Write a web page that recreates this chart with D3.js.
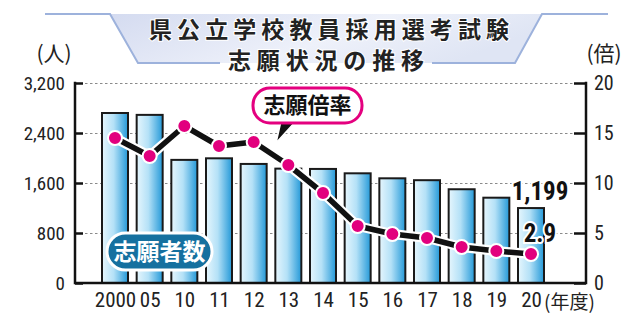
<!DOCTYPE html>
<html><head><meta charset="utf-8">
<script src="https://cdn.jsdelivr.net/npm/d3@7"></script>
<style>
html,body{margin:0;padding:0;background:#fff;}
svg{display:block;}
.num{font-family:"Liberation Sans Narrow","Roboto Condensed","DejaVu Sans Condensed",sans-serif;}
.jp{font-family:"Noto Sans CJK JP","Noto Sans CJK SC",sans-serif;}
.mix{font-family:"Liberation Sans Narrow","Noto Sans CJK JP",sans-serif;}
</style></head>
<body>
<svg id="c" width="640" height="330"></svg>
<script>
const years = ["2000","05","10","11","12","13","14","15","16","17","18","19","20"];
const applicants = [2720,2690,1970,1995,1905,1830,1825,1755,1675,1645,1500,1365,1199];
const ratio = [14.5,12.7,15.7,13.7,14.1,11.8,9.0,5.7,4.9,4.5,3.6,3.2,2.9];
const leftTicks = [0,800,1600,2400,3200];
const rightTicks = [0,5,10,15,20];
const titleLines = ["県公立学校教員採用選考試験","志願状況の推移"];

const svg = d3.select("#c");
const L = 75, R = 586, T = 83, B = 283;

const x = d3.scalePoint().domain(years).range([115, 531]);
const bw = x.step() * 0.75;
const yL = d3.scaleLinear().domain([0,3200]).range([B,T]);
const yR = d3.scaleLinear().domain([0,20]).range([B,T]);

const defs = svg.append("defs");
const g1 = defs.append("linearGradient").attr("id","barg").attr("x1","0").attr("x2","1").attr("y1","0").attr("y2","0");
g1.append("stop").attr("offset","0").attr("stop-color","#e6f6fd");
g1.append("stop").attr("offset","0.45").attr("stop-color","#b4e1f7");
g1.append("stop").attr("offset","1").attr("stop-color","#2499d8");
const g2 = defs.append("linearGradient").attr("id","titg").attr("x1","0").attr("x2","1").attr("y1","0").attr("y2","0.3");
g2.append("stop").attr("offset","0").attr("stop-color","#d4dbf0");
g2.append("stop").attr("offset","0.6").attr("stop-color","#eef1fa");
g2.append("stop").attr("offset","1").attr("stop-color","#dfe5f4");

// title banner
svg.append("path")
  .attr("d","M110,14 L542,14 L515,63 L138,63 Z")
  .attr("fill","url(#titg)");
svg.append("path")
  .attr("d","M45,14 L110,14 L138,63 L220,63 M432,63 L515,63 L542,14 L608,14")
  .attr("fill","none").attr("stroke","#9db2dc").attr("stroke-width",2);
svg.append("text").attr("class","jp").attr("x",329).attr("y",38)
  .attr("text-anchor","middle").attr("font-size",23).attr("font-weight",700)
  .attr("textLength",360).attr("lengthAdjust","spacing")
  .attr("stroke","#fff").attr("stroke-width",2).attr("paint-order","stroke")
  .attr("fill","#222").text(titleLines[0]);
svg.append("text").attr("class","jp").attr("x",326).attr("y",69)
  .attr("text-anchor","middle").attr("font-size",23).attr("font-weight",700)
  .attr("textLength",196).attr("lengthAdjust","spacing")
  .attr("stroke","#fff").attr("stroke-width",2).attr("paint-order","stroke")
  .attr("fill","#222").text(titleLines[1]);

// units
svg.append("text").attr("class","mix").attr("x",54).attr("y",61).attr("text-anchor","middle")
  .attr("font-size",21).attr("fill","#222").text("(人)");
svg.append("text").attr("class","mix").attr("x",604).attr("y",61).attr("text-anchor","middle")
  .attr("font-size",21).attr("fill","#222").text("(倍)");

// gridlines
const grid = svg.append("g").attr("transform",`translate(${L},0)`)
  .call(d3.axisLeft(yL).tickValues(leftTicks.slice(1)).tickSize(-(R-L)).tickFormat(""));
grid.select(".domain").remove();
grid.selectAll("line").attr("stroke","#8a8a8a").attr("stroke-dasharray","2.5,2.5").attr("stroke-width",1);

// bars
svg.append("g").selectAll("rect").data(years).join("rect")
  .attr("x", d => x(d) - bw/2)
  .attr("y", (d,i) => yL(applicants[i]))
  .attr("width", bw)
  .attr("height", (d,i) => B - yL(applicants[i]))
  .attr("fill","url(#barg)").attr("stroke","#1a1a1a").attr("stroke-width",2);

// line
const line = d3.line().x((d,i) => x(years[i])).y(d => yR(d));
svg.append("path").datum(ratio).attr("d",line).attr("fill","none")
  .attr("stroke","#fff").attr("stroke-width",10).attr("stroke-linejoin","round");
svg.append("path").datum(ratio).attr("d",line).attr("fill","none")
  .attr("stroke","#111").attr("stroke-width",5.5).attr("stroke-linejoin","round");
svg.append("g").selectAll("circle").data(ratio).join("circle")
  .attr("cx",(d,i) => x(years[i])).attr("cy", d => yR(d)).attr("r",7)
  .attr("fill","#e2007e").attr("stroke","#fff").attr("stroke-width",2);

// axes
const axL = svg.append("g").attr("transform",`translate(${L},0)`)
  .call(d3.axisLeft(yL).tickValues(leftTicks).tickSize(-8).tickPadding(10).tickFormat(d3.format(",")));
const axR = svg.append("g").attr("transform",`translate(${R},0)`)
  .call(d3.axisRight(yR).tickValues(rightTicks).tickSize(-12).tickPadding(8));
[axL, axR].forEach(a => {
  a.select(".domain").remove();
  a.selectAll("line").attr("stroke","#111").attr("stroke-width",2.5);
  a.selectAll("text").attr("class","num").attr("fill","#222").attr("font-size",20);
});
axL.selectAll("text").attr("font-size",19);
const axB = svg.append("g").attr("transform",`translate(0,${B})`)
  .call(d3.axisBottom(x).tickSize(0).tickPadding(9));
axB.select(".domain").remove();
axB.selectAll("text").attr("class","num").attr("fill","#222").attr("font-size",21);
svg.append("path").attr("d",`M${L},${T-1.25} V${B} H${R} V${T-1.25}`)
  .attr("fill","none").attr("stroke","#111").attr("stroke-width",2.5);

svg.append("text").attr("class","mix").attr("x",544).attr("y",309).attr("text-anchor","start")
  .attr("font-size",19).attr("fill","#222").text("(年度)");

// annotations
const last = years.length - 1;
svg.append("text").attr("class","num").attr("x", x(years[last]) + 9).attr("y", yL(applicants[last]) - 8)
  .attr("text-anchor","middle").attr("font-size",25).attr("font-weight",700)
  .attr("stroke","#fff").attr("stroke-width",4).attr("paint-order","stroke")
  .attr("fill","#111").text(d3.format(",")(applicants[last]));
svg.append("text").attr("class","num").attr("x", x(years[last]) + 9).attr("y", yR(ratio[last]) - 12)
  .attr("text-anchor","middle").attr("font-size",25).attr("font-weight",700)
  .attr("stroke","#fff").attr("stroke-width",4).attr("paint-order","stroke")
  .attr("fill","#111").text(ratio[last].toFixed(1));

// label pills
svg.append("path").attr("d","M276,143 L281,121 L296,121 Z").attr("fill","#111")
  .attr("stroke","#fff").attr("stroke-width",1.5);
svg.append("rect").attr("x",253).attr("y",88).attr("width",109).attr("height",35).attr("rx",17)
  .attr("fill","#fff").attr("stroke","#e4007f").attr("stroke-width",3);
svg.append("text").attr("class","jp").attr("x",307.5).attr("y",113).attr("text-anchor","middle")
  .attr("font-size",22).attr("font-weight",700).attr("fill","#111").text("志願倍率");

svg.append("rect").attr("x",107).attr("y",233).attr("width",105).attr("height",37).attr("rx",18.5)
  .attr("fill","#15709f").attr("stroke","#fff").attr("stroke-width",3);
svg.append("text").attr("class","jp").attr("x",159.5).attr("y",260).attr("text-anchor","middle")
  .attr("font-size",23).attr("font-weight",700).attr("fill","#fff").text("志願者数");
</script>
</body></html>
